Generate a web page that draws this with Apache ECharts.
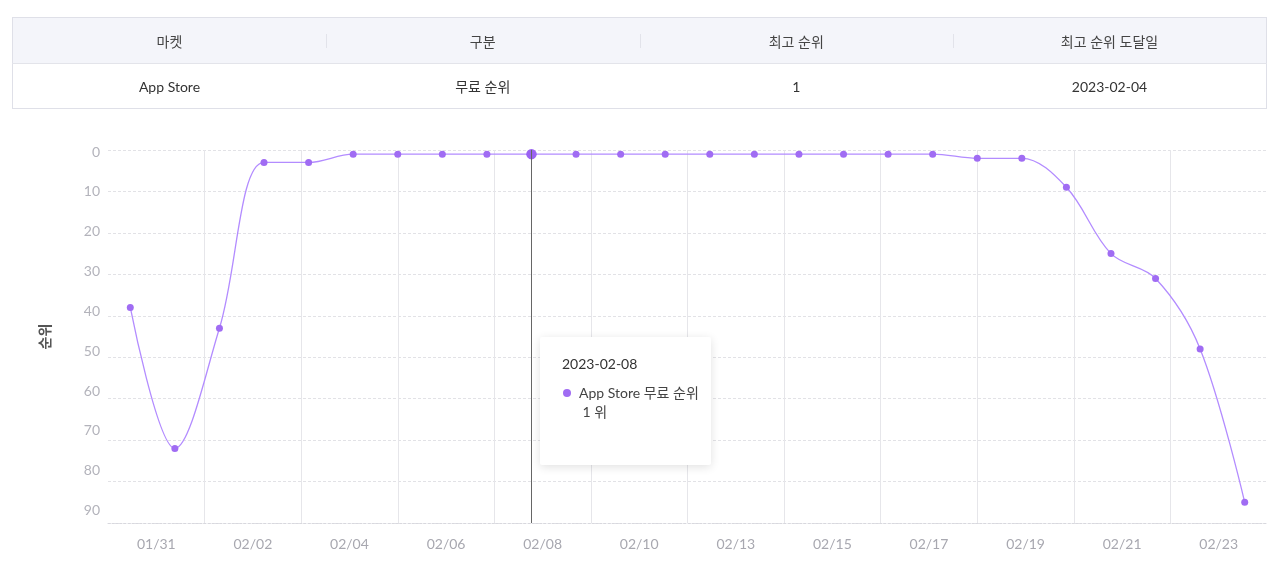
<!DOCTYPE html>
<html><head><meta charset="utf-8">
<script src="https://cdn.jsdelivr.net/npm/echarts@6/dist/echarts.min.js"></script>
<style>
html,body{margin:0;padding:0;background:#fff;width:1280px;height:568px;overflow:hidden;font-family:Lato,'Noto Sans CJK KR',sans-serif;}
#tbl{position:absolute;left:12px;top:17px;width:1255px;table-layout:fixed;border-collapse:collapse;border:1px solid #dfe0e8;font-size:14px;z-index:2;}
#tbl th{height:45px;background:#f4f5fa;font-weight:normal;color:#444;position:relative;padding:0;}
#tbl td{height:44px;background:#fff;color:#333;text-align:center;padding:0;border-top:1px solid #e3e4ea;}
#tbl th+th:before{content:'';position:absolute;left:0;top:16px;height:14px;border-left:1px solid #e2e3ea;}
#chart{position:absolute;left:0;top:0;width:1280px;height:568px;}
</style></head>
<body>
<div id="chart"></div>
<table id="tbl"><thead><tr id="hdr"></tr></thead><tbody><tr id="row"></tr></tbody></table>
<script>
var tableHeaders = ['마켓', '구분', '최고 순위', '최고 순위 도달일'];
var tableRow = ['App Store', '무료 순위', '1', '2023-02-04'];
var dates = ['2023-01-30','2023-01-31','2023-02-01','2023-02-02','2023-02-03','2023-02-04','2023-02-05','2023-02-06','2023-02-07','2023-02-08','2023-02-09','2023-02-10','2023-02-11','2023-02-12','2023-02-13','2023-02-14','2023-02-15','2023-02-16','2023-02-17','2023-02-18','2023-02-19','2023-02-20','2023-02-21','2023-02-22','2023-02-23','2023-02-24'];
var ranks = [38,72,43,3,3,1,1,1,1,1,1,1,1,1,1,1,1,1,1,2,2,9,25,31,48,85];
var xTickLabels = ['01/31','02/02','02/04','02/06','02/08','02/10','02/13','02/15','02/17','02/19','02/21','02/23'];
var yTicks = [0,10,20,30,40,50,60,70,80,90];
var seriesName = 'App Store 무료 순위';
var yAxisName = '순위';
var tipIndex = 9;

document.getElementById('hdr').innerHTML = tableHeaders.map(function(h){return '<th>'+h+'</th>';}).join('');
document.getElementById('row').innerHTML = tableRow.map(function(h){return '<td>'+h+'</td>';}).join('');

var chart = echarts.init(document.getElementById('chart'), null, {renderer:'canvas'});
var rich = {};
yTicks.forEach(function(v, i){
  var d = 1.6*i - 2; // visual label drift of reference
  rich['l'+i] = {fontSize:14, color:'#b3b3bb', fontFamily:'Lato',
    padding: d >= 0 ? [0,0,2*d,0] : [-2*d,0,0,0]};
});
chart.setOption({
  animation:false,
  textStyle:{fontFamily:"Lato,'Noto Sans CJK KR',sans-serif"},
  grid:{left:108, right:13, top:150, bottom:45, containLabel:false},
  tooltip:{
    trigger:'axis', triggerOn:'none', alwaysShowContent:true,
    backgroundColor:'#fff', borderWidth:0, padding:[17,22,44,22],
    extraCssText:'box-shadow:0 2px 10px rgba(0,0,0,0.12);border-radius:2px;width:127px;',
    axisPointer:{type:'line', lineStyle:{color:'#666', width:1, type:'solid'}},
    position:function(pt){ return [pt[0]+9, 337]; },
    formatter:function(params){
      var p = params[0];
      return '<div style="font-family:Lato,\'Noto Sans CJK KR\';font-size:14px;color:#333;line-height:20px">'+dates[p.dataIndex]+'</div>'+
        '<div style="display:flex;margin-top:9px;font-family:Lato,\'Noto Sans CJK KR\';font-size:14px;color:#444;line-height:19px">'+
        '<span style="display:inline-block;width:8px;height:8px;border-radius:4px;background:#a06cf3;margin:6px 8px 0 1px;flex:none"></span>'+
        '<div>'+seriesName+'<br>&nbsp;'+p.value+' 위</div></div>';
    }
  },
  xAxis:[{
    type:'category', data:dates, boundaryGap:true,
    axisLine:{show:false}, axisTick:{show:false}, axisLabel:{show:false}, splitLine:{show:false}
  },{
    type:'category', data:xTickLabels, boundaryGap:true, position:'bottom',
    axisPointer:{show:false},
    axisLine:{show:true, lineStyle:{color:'#d8d8de', type:[2,2], width:1}},
    axisTick:{show:false},
    axisLabel:{color:'#a8a8b0', fontSize:14, margin:14, fontFamily:'Lato'},
    splitLine:{show:true, showMinLine:false, showMaxLine:false, lineStyle:{color:'#e6e6ea', width:1}}
  }],
  yAxis:{
    type:'value', inverse:true, min:0, max:90, interval:10,
    name:yAxisName, nameLocation:'middle', nameRotate:90, nameGap:56,
    nameTextStyle:{color:'#555', fontSize:14, fontWeight:'bold', fontFamily:'Noto Sans CJK KR'},
    axisLine:{show:false}, axisTick:{show:false},
    axisLabel:{margin:8, formatter:function(v){ var i = yTicks.indexOf(v); return '{l'+i+'|'+v+'}'; }, rich:rich},
    splitLine:{show:true, lineStyle:{color:'#e2e2e6', type:[3,2], width:1}}
  },
  series:[{
    name:seriesName, type:'line', xAxisIndex:0, data:ranks, smooth:0.35,
    symbol:'circle', symbolSize:7,
    itemStyle:{color:'#a06cf3'},
    lineStyle:{color:'#a380f2', width:1.3},
    emphasis:{scale:1.5, itemStyle:{color:'#9a62f2'}}
  }]
});
setTimeout(function(){
  chart.dispatchAction({type:'showTip', seriesIndex:0, dataIndex:tipIndex});
  chart.dispatchAction({type:'highlight', seriesIndex:0, dataIndex:tipIndex});
}, 50);
</script>
</body></html>
